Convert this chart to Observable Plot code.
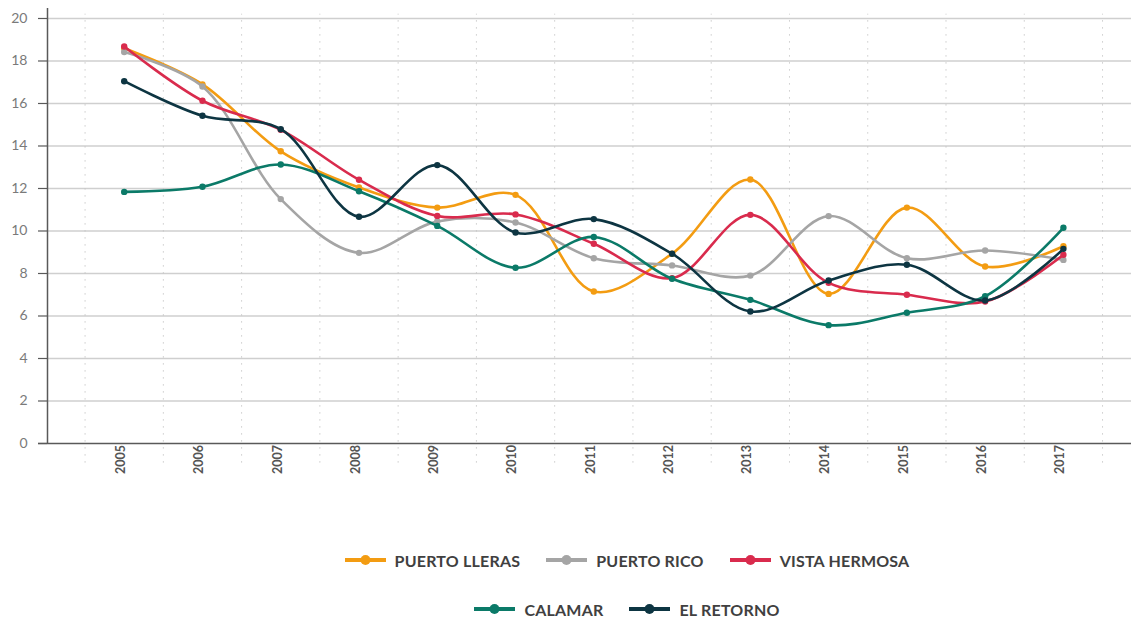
<!DOCTYPE html>
<html>
<head>
<meta charset="utf-8">
<script src="https://cdn.jsdelivr.net/npm/d3@7"></script>
<script src="https://cdn.jsdelivr.net/npm/@observablehq/plot@0.6"></script>
<style>
  html, body { margin: 0; padding: 0; background: #fff; }
  #wrap { width: 1131px; height: 618px; position: relative; overflow: hidden; }
  .legend { position: absolute; left: 123px; width: 1008px; display: flex; justify-content: center; align-items: center; gap: 26px;
            font-family: Lato, "Open Sans", sans-serif; font-weight: 700; font-size: 16px; letter-spacing: 0.2px; color: #404040; }
  .item { display: flex; align-items: center; gap: 9px; white-space: nowrap; }
</style>
</head>
<body>
<div id="wrap">
  <div id="chart"></div>
  <div class="legend" id="leg1" style="top:550px;height:20px;"></div>
  <div class="legend" id="leg2" style="top:599px;height:20px;"></div>
</div>
<script>
const years = [2005, 2006, 2007, 2008, 2009, 2010, 2011, 2012, 2013, 2014, 2015, 2016, 2017];
const seriesNames = ["PUERTO LLERAS", "PUERTO RICO", "VISTA HERMOSA", "CALAMAR", "EL RETORNO"];
const seriesColors = ["#F39C12", "#A5A5A5", "#D92B4D", "#0B7A68", "#0D3542"];
const puertoLleras = [18.6, 16.9, 13.75, 12.05, 11.1, 11.7, 7.15, 8.93, 12.42, 7.04, 11.1, 8.33, 9.28];
const puertoRico   = [18.42, 16.8, 11.5, 8.97, 10.45, 10.4, 8.72, 8.38, 7.9, 10.7, 8.72, 9.08, 8.64];
const vistaHermosa = [18.68, 16.13, 14.76, 12.41, 10.71, 10.78, 9.4, 7.78, 10.76, 7.56, 7.0, 6.68, 8.88];
const calamar      = [11.84, 12.08, 13.13, 11.87, 10.24, 8.27, 9.72, 7.75, 6.76, 5.57, 6.15, 6.93, 10.15];
const elRetorno    = [17.05, 15.42, 14.79, 10.67, 13.1, 9.93, 10.56, 8.93, 6.21, 7.67, 8.41, 6.73, 9.16];
const yTicks = [0, 2, 4, 6, 8, 10, 12, 14, 16, 18, 20];

const seriesValues = [puertoLleras, puertoRico, vistaHermosa, calamar, elRetorno];
const series = seriesNames.map((name, k) => ({
  name, color: seriesColors[k],
  rows: years.map((year, i) => ({ year, value: seriesValues[k][i], name }))
}));

const xMin = 2004.02, xMax = 2017.87, yMax = 20.47;
const tickStart = 2003.905;
const seriesMarks = series.flatMap(s => [
  Plot.line(s.rows, { x: "year", y: "value", stroke: s.color, strokeWidth: 2.6, curve: "catmull-rom" }),
  Plot.dot(s.rows, { x: "year", y: "value", fill: s.color, r: 3.2 })
]);

const chart = Plot.plot({
  width: 1131, height: 520,
  marginLeft: 47, marginRight: 0, marginTop: 8, marginBottom: 77,
  style: { fontFamily: "Lato, 'Open Sans', sans-serif", background: "#fff", overflow: "visible" },
  x: { type: "linear", domain: [xMin, xMax] },
  y: { domain: [0, yMax] },
  marks: [
    Plot.ruleY(yTicks.filter(d => d > 0), { stroke: "#cfcfcf", strokeWidth: 1.3 }),
    Plot.ruleX(years.map(y => y - 0.5).concat([years[years.length - 1] + 0.5]),
      { y1: -0.92, y2: 20.2, stroke: "#c4c4c4", strokeWidth: 1, strokeDasharray: "1.3,5.7" }),
    Plot.ruleY(yTicks, { x1: tickStart, x2: xMin, stroke: "#595959", strokeWidth: 1.2 }),
    Plot.ruleX([xMin], { y1: 0, y2: yMax, stroke: "#595959", strokeWidth: 1.5 }),
    Plot.ruleY([0], { x1: tickStart, x2: xMax, stroke: "#595959", strokeWidth: 1.5 }),
    Plot.axisY({ ticks: yTicks, tickSize: 0, tickPadding: 20, fontSize: 14, fill: "#7a7a7a", label: null }),
    Plot.axisX({ ticks: years, tickFormat: d => String(d), rotate: -90, tickSize: 0, tickPadding: 16,
      fontSize: 12.5, fontWeight: 700, fill: "#555555", label: null, dx: -8 }),
    ...seriesMarks
  ]
});
document.getElementById("chart").appendChild(chart);

function legendItem(name, color) {
  const el = document.createElement("div");
  el.className = "item";
  el.innerHTML = `<svg width="41" height="12"><line x1="0" y1="6" x2="41" y2="6" stroke="${color}" stroke-width="4"/><circle cx="20.5" cy="6" r="5" fill="${color}"/></svg><span>${name}</span>`;
  return el;
}
const leg1 = document.getElementById("leg1"), leg2 = document.getElementById("leg2");
series.forEach((s, i) => (i < 3 ? leg1 : leg2).appendChild(legendItem(s.name, s.color)));
</script>
</body>
</html>
